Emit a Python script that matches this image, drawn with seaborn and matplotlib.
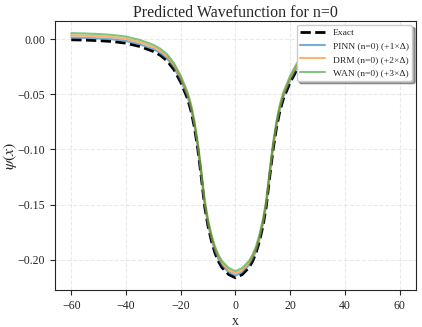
import numpy as np
import pandas as pd
import seaborn as sns
import matplotlib.pyplot as plt

# valores (lado izquierdo, la curva es simetrica)
x_half = [-60, -55, -50, -45, -40, -35, -30, -27.5, -25, -22.5, -20, -17.5,
          -16.25, -15, -13.75, -12.5, -11.25, -10, -8.75, -7.5, -6.25, -5,
          -2.5, 0]
psi_half = [-0.0004, -0.0007, -0.0012, -0.0020, -0.0035, -0.0065, -0.0110,
            -0.0145, -0.0195, -0.0275, -0.0390, -0.0540, -0.0650, -0.0800,
            -0.1000, -0.1250, -0.1520, -0.1700, -0.1835, -0.1940, -0.2015,
            -0.2070, -0.2135, -0.2165]

x_vals = x_half + [-v for v in x_half[-2::-1]]
psi_exact = psi_half + psi_half[-2::-1]

delta = 0.002
modelos = ['PINN', 'DRM', 'WAN']
colores = ['#1f77b4', '#ff7f0e', '#2ca02c']

sns.set_style("ticks")
plt.rcParams['font.family'] = ['Liberation Serif', 'DejaVu Serif']
plt.rcParams['mathtext.fontset'] = 'stix'

fig, ax = plt.subplots(figsize=(4.22, 3.27), dpi=100)

df = pd.DataFrame({'x': x_vals, 'psi': psi_exact})
sns.lineplot(data=df, x='x', y='psi', ax=ax, color='black', linestyle='--',
             linewidth=2, label='Exact', zorder=3)

# predicciones desplazadas k*delta para que se vean
for k, (m, c) in enumerate(zip(modelos, colores), start=1):
    dfm = pd.DataFrame({'x': x_vals, 'psi': np.array(psi_exact) + k * delta})
    sns.lineplot(data=dfm, x='x', y='psi', ax=ax, color=c, alpha=0.6,
                 linewidth=1.5, label=f'{m} (n=0) (+{k}×Δ)', zorder=4)

ax.set_title('Predicted Wavefunction for n=0', fontsize=11.5, pad=3)
ax.set_xlabel('x', fontsize=10, labelpad=2)
ax.set_ylabel(r'$\psi(x)$', fontsize=11.5)
ax.yaxis.set_label_coords(-0.10, 0.5)
ax.set_xticks([-60, -40, -20, 0, 20, 40, 60])
ax.set_yticks([0.0, -0.05, -0.10, -0.15, -0.20])
ax.tick_params(labelsize=8.6)
ax.grid(True, linestyle='--', alpha=0.4)
ax.legend(loc='upper right', fontsize=6.8, shadow=True, fancybox=True,
          handlelength=2.6, borderaxespad=0.4)

fig.subplots_adjust(left=0.13, right=0.986, top=0.936, bottom=0.113)
fig.savefig('out.png', dpi=100)
